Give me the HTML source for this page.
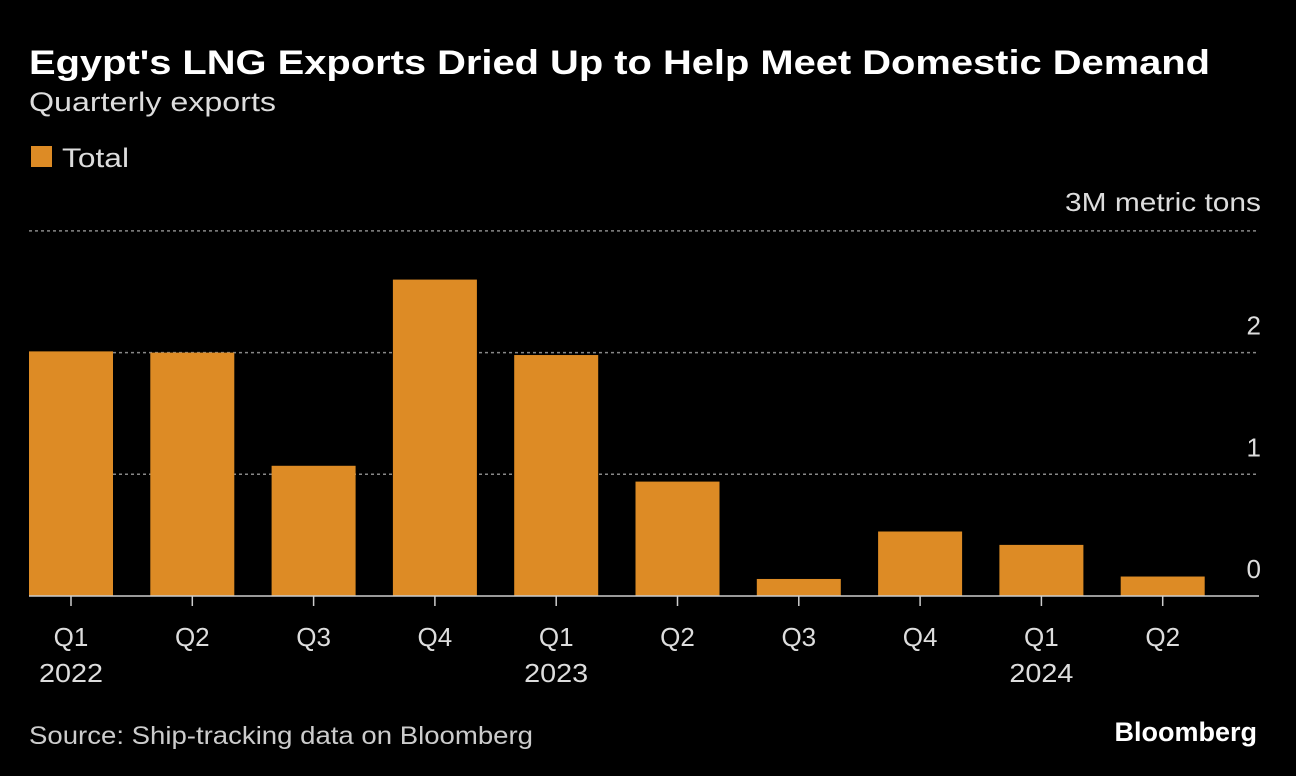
<!DOCTYPE html>
<html><head><meta charset="utf-8"><style>
body{margin:0;background:#000;width:1296px;height:776px;overflow:hidden;font-family:"Liberation Sans",sans-serif;color:#fff}
svg{position:absolute;left:0;top:0}
</style></head><body>
<svg width="1296" height="776">
<text x="29" y="74" font-size="34" font-weight="bold" fill="#fff" textLength="1181" lengthAdjust="spacingAndGlyphs">Egypt's LNG Exports Dried Up to Help Meet Domestic Demand</text>
<text x="29" y="111" font-size="27" fill="#ddd" textLength="247" lengthAdjust="spacingAndGlyphs">Quarterly exports</text>
<rect x="31" y="146" width="21" height="21" fill="#dd8b25"/>
<text x="62" y="167" font-size="27" fill="#ddd" textLength="67" lengthAdjust="spacingAndGlyphs">Total</text>
<text x="1261" y="211" font-size="26" fill="#ddd" text-anchor="end" textLength="196" lengthAdjust="spacingAndGlyphs">3M metric tons</text>
<g id="grid"></g><g id="bars"></g><g id="xl"></g>
<line x1="29" x2="1259" y1="596" y2="596" stroke="#ccc" stroke-width="1.5"/>
<text x="29" y="744" font-size="25" fill="#ccc" textLength="504" lengthAdjust="spacingAndGlyphs">Source: Ship-tracking data on Bloomberg</text>
<text x="1257" y="741" font-size="27" font-weight="bold" fill="#fff" text-anchor="end">Bloomberg</text>
</svg>
<script>
const categories=["Q1","Q2","Q3","Q4","Q1","Q2","Q3","Q4","Q1","Q2"];
const years=["2022","","","","2023","","","","2024",""];
const values=[2.01,2.0,1.07,2.6,1.98,0.94,0.14,0.53,0.42,0.16];
const yTicks=[0,1,2,3];
const ns="http://www.w3.org/2000/svg";
const y0=596,ppu=121.7,x0=29,step=121.3,bw=84;
const yS=v=>y0-v*ppu;const xS=i=>x0+i*step;
function mk(t,a,p){const e=document.createElementNS(ns,t);for(const k in a)e.setAttribute(k,a[k]);document.getElementById(p).appendChild(e);return e;}
yTicks.forEach(v=>{
 if(v>0){const l=mk('line',{x1:29,x2:1259,y1:yS(v),y2:yS(v),stroke:'#888','stroke-dasharray':'3,3','stroke-width':1.5},'grid');
 
 }
 if(v<3){const t=mk('text',{x:1261,y:yS(v)-18,'font-size':26,fill:'#ddd','text-anchor':'end'},'grid');t.textContent=v;
 
 }
});
values.forEach((v,i)=>{
 const r=mk('rect',{x:xS(i),y:yS(v),width:bw,height:v*ppu,fill:'#dd8b25'},'bars');
 
 
 const c=xS(i)+bw/2;
 const tk=mk('line',{x1:c,x2:c,y1:596,y2:606,stroke:'#ccc','stroke-width':1.5},'xl');
 
 
 const t=mk('text',{x:c,y:646,'font-size':26,fill:'#ddd','text-anchor':'middle'},'xl');t.textContent=categories[i];
 
 
 if(years[i]){const y=mk('text',{x:c,y:682,'font-size':26,fill:'#ddd','text-anchor':'middle',textLength:64,lengthAdjust:'spacingAndGlyphs'},'xl');y.textContent=years[i];
 
 }
});
</script>
</body></html>
